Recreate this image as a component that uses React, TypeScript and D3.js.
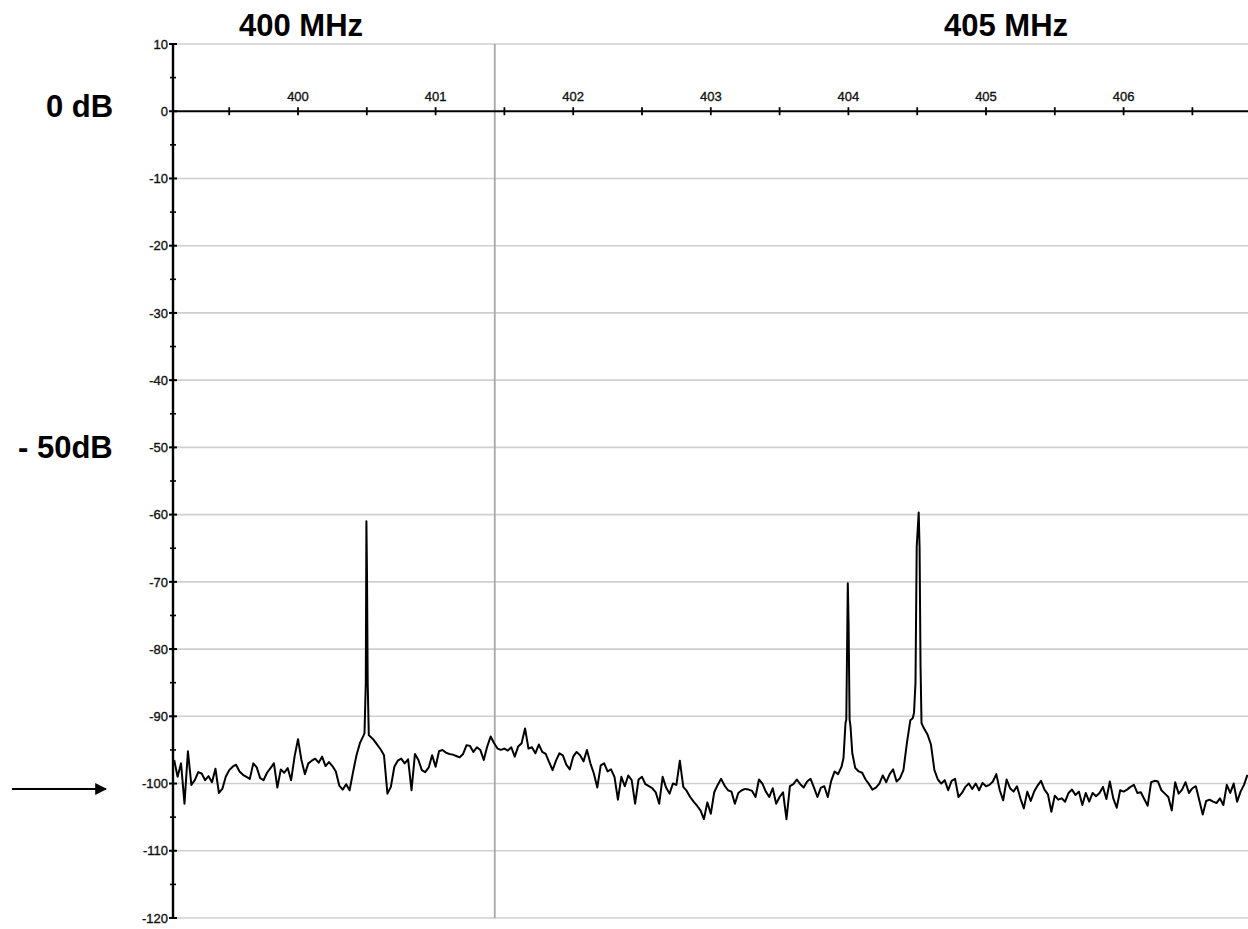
import React from "react";
import * as d3 from "d3";

// ---- data ----
const yTickValues = [10, 0, -10, -20, -30, -40, -50, -60, -70, -80, -90, -100, -110, -120];
const yMinorValues = [5, -5, -15, -25, -35, -45, -55, -65, -75, -85, -95, -105, -115];
const xTickLabels = [400, 401, 402, 403, 404, 405, 406];
const xTickValues = [399.5, 400, 400.5, 401, 401.5, 402, 402.5, 403, 403.5, 404, 404.5, 405, 405.5, 406, 406.5];
const markerFreq = 401.43;

const freqStart = 399.1;
const freqStep = 0.025;
const baseDb = [
  -96.5, -99.0, -97.0, -103.0, -95.2, -100.2, -99.5, -98.3, -98.5, -99.5,
  -98.9, -99.8, -97.8, -101.4, -100.8, -99.0, -98.0, -97.5, -97.2, -98.2,
  -98.7, -99.0, -99.3, -97.0, -97.6, -99.2, -99.5, -98.4, -97.7, -97.0,
  -100.6, -97.9, -98.4, -97.7, -99.5, -96.0, -93.4, -96.5, -98.6, -97.0,
  -96.6, -96.3, -96.9, -96.0, -97.4, -96.8, -97.4, -98.2, -100.3, -100.9,
  -100.1, -101.0, -98.3, -95.8, -94.0, -92.9, -92.3, -93.0, -93.5, -94.2,
  -94.9, -95.8, -101.5, -100.5, -97.5, -96.6, -96.3, -97.0, -96.4, -101.0,
  -95.6, -96.5, -98.0, -98.3, -97.6, -95.8, -97.5, -95.2, -95.0, -95.4,
  -95.6, -95.7, -95.9, -96.1, -95.6, -94.3, -94.4, -95.3, -94.6, -95.0,
  -96.5, -94.5, -93.0, -94.0, -94.8, -95.0, -94.8, -95.1, -94.6, -96.0,
  -94.5, -94.0, -91.8, -94.8, -94.6, -95.5, -94.2, -95.3, -95.6, -96.8,
  -98.0, -96.6, -95.5, -95.8, -97.2, -97.9, -96.0, -95.3, -95.8, -96.7,
  -95.0, -97.0, -98.5, -100.6, -97.3, -97.0, -98.2, -97.9, -99.0, -102.4,
  -99.0, -100.4, -98.8, -99.5, -103.0, -99.4, -99.0, -100.1, -100.4, -100.7,
  -101.3, -103.0, -99.0, -100.6, -101.5, -100.0, -100.2, -96.6, -100.5, -101.1,
  -102.0, -102.7, -103.3, -104.0, -105.3, -102.8, -104.5, -101.3, -100.2, -99.3,
  -100.3, -101.0, -101.2, -103.0, -101.4, -101.0, -100.8, -100.9, -101.1, -102.0,
  -99.4, -100.0, -101.2, -102.0, -100.7, -103.0, -102.0, -101.3, -105.3, -100.4,
  -100.1, -99.4, -100.1, -100.6, -99.7, -99.3, -100.6, -102.0, -100.6, -100.4,
  -102.0, -99.6, -98.2, -98.6, -97.5, -93.0, -92.0, -95.0, -97.7, -98.2,
  -98.4, -99.4, -100.1, -100.9, -100.6, -100.0, -98.8, -99.8, -98.6, -97.9,
  -99.7, -99.2, -98.0, -94.0, -90.6, -90.3, -90.0, -90.0, -91.8, -92.7,
  -94.2, -98.0, -99.4, -100.0, -99.5, -101.0, -99.6, -99.3, -102.0, -101.4,
  -100.5, -100.0, -100.8, -100.0, -101.0, -99.9, -100.4, -100.2, -99.7, -98.6,
  -101.0, -102.5, -99.4, -100.7, -101.2, -100.4, -102.2, -103.7, -101.2, -102.6,
  -101.2, -100.3, -99.6, -100.9, -101.6, -104.2, -101.8, -102.4, -102.2, -102.7,
  -101.4, -100.9, -101.7, -101.2, -103.2, -101.4, -102.7, -101.4, -101.9, -101.4,
  -100.5, -102.3, -99.7, -102.2, -103.6, -101.0, -101.2, -100.9, -100.5, -100.2,
  -101.4, -101.3, -102.3, -103.3, -99.8, -99.6, -99.7, -101.0, -101.5, -102.0,
  -104.0, -99.8, -101.5, -100.9, -99.8, -101.4, -100.7, -100.4, -102.5, -104.6,
  -102.6, -102.4, -102.7, -102.9, -102.2, -103.2, -100.2, -101.4, -100.0, -102.7,
  -101.2, -100.2, -98.7,
];

// narrow carrier spikes (frequency in MHz, level in dB)
const spike1Freq = [400.4833, 400.4927, 400.4971, 400.5015, 400.5065, 400.5145];
const spike1Db = [-92.5, -85, -61, -69, -85, -92.8];
const spike2Freq = [403.9644, 403.9789, 403.9847, 403.9956, 404.0015, 404.0087, 404.0153, 404.0283];
const spike2Db = [-96.2, -91.0, -90.5, -70.2, -76.5, -90.5, -91.5, -95.5];
const spike3Freq = [404.4673, 404.4767, 404.4876, 404.4964, 404.5109, 404.5174, 404.524, 404.5313, 404.5443];
const spike3Db = [-90.3, -89.5, -85.0, -64.8, -59.7, -65.0, -82.2, -91.0, -91.6];

const W = 1248;
const H = 929;
const FONT = "'Liberation Sans', Arial, Helvetica, sans-serif";

export default function App() {
  const x = d3.scaleLinear().domain([400, 406]).range([298, 1123.6]);
  const y = d3.scaleLinear().domain([10, -120]).range([44, 918]);
  const left = 173;
  const right = W;

  const spikes = [
    { f: spike1Freq, d: spike1Db },
    { f: spike2Freq, d: spike2Db },
    { f: spike3Freq, d: spike3Db },
  ];
  const basePts = baseDb.map((d, i) => ({ f: freqStart + i * freqStep, d }));
  const kept = basePts.filter(
    (p) => !spikes.some((s) => p.f >= s.f[0] && p.f <= s.f[s.f.length - 1])
  );
  const spikePts = spikes.flatMap((s) => s.f.map((f, i) => ({ f, d: s.d[i] })));
  const pts = [...kept, ...spikePts].sort((a, b) => a.f - b.f);

  const line = d3
    .line<{ f: number; d: number }>()
    .x((p) => x(p.f))
    .y((p) => y(p.d));

  const bold = { fontFamily: FONT, fontWeight: 700, fontSize: 31, fill: "#000" } as const;
  const small = { fontFamily: FONT, fontSize: 13, fill: "#111", stroke: "#111", strokeWidth: 0.35 } as const;

  return (
    <svg
      width={W}
      height={H}
      viewBox={`0 0 ${W} ${H}`}
      style={{ position: "absolute", left: 0, top: 0, background: "#fff" }}
    >
      <rect x={0} y={0} width={W} height={H} fill="#fff" />
      {/* horizontal grid */}
      {yTickValues
        .filter((v) => v !== 0)
        .map((v) => (
          <line key={"g" + v} x1={left} x2={right} y1={y(v)} y2={y(v)} stroke="#cfcfcf" strokeWidth={1.6} />
        ))}
      {/* marker line */}
      <line x1={x(markerFreq)} x2={x(markerFreq)} y1={y(10)} y2={y(-120)} stroke="#a8a8a8" strokeWidth={1.8} />

      {/* y axis */}
      <line x1={left} x2={left} y1={y(10)} y2={y(-120)} stroke="#000" strokeWidth={2.4} />
      {yTickValues.map((v) => (
        <g key={"yt" + v}>
          <line x1={left - 4} x2={left + 4} y1={y(v)} y2={y(v)} stroke="#000" strokeWidth={2} />
          <text x={left - 5} y={y(v)} dy="0.36em" textAnchor="end" style={small}>
            {v}
          </text>
        </g>
      ))}
      {yMinorValues.map((v) => (
        <line key={"ym" + v} x1={left - 3} x2={left + 3} y1={y(v)} y2={y(v)} stroke="#000" strokeWidth={1.6} />
      ))}

      {/* zero axis */}
      <line x1={left} x2={right} y1={y(0)} y2={y(0)} stroke="#000" strokeWidth={2.2} />
      {xTickValues.map((v) => (
        <line key={"xt" + v} x1={x(v)} x2={x(v)} y1={y(0) - 4} y2={y(0) + 4} stroke="#000" strokeWidth={1.8} />
      ))}
      {xTickLabels.map((v) => (
        <text key={"xl" + v} x={x(v)} y={y(0) - 10} textAnchor="middle" style={small}>
          {v}
        </text>
      ))}

      {/* trace */}
      <path d={line(pts) || ""} fill="none" stroke="#000" strokeWidth={2} strokeLinejoin="round" />

      {/* annotations */}
      <text x={301} y={36} textAnchor="middle" style={bold}>400 MHz</text>
      <text x={1006} y={36} textAnchor="middle" style={bold}>405 MHz</text>
      <text x={46} y={117} style={bold}>0 dB</text>
      <text x={18} y={458} style={bold}>- 50dB</text>

      <defs>
        <marker id="arrowHead" viewBox="0 0 10 10" refX={9} refY={5} markerWidth={6} markerHeight={6} orient="auto">
          <path d="M0,0 L10,5 L0,10 z" fill="#000" />
        </marker>
      </defs>
      <line x1={12} x2={106} y1={789} y2={789} stroke="#000" strokeWidth={2} markerEnd="url(#arrowHead)" />
    </svg>
  );
}
